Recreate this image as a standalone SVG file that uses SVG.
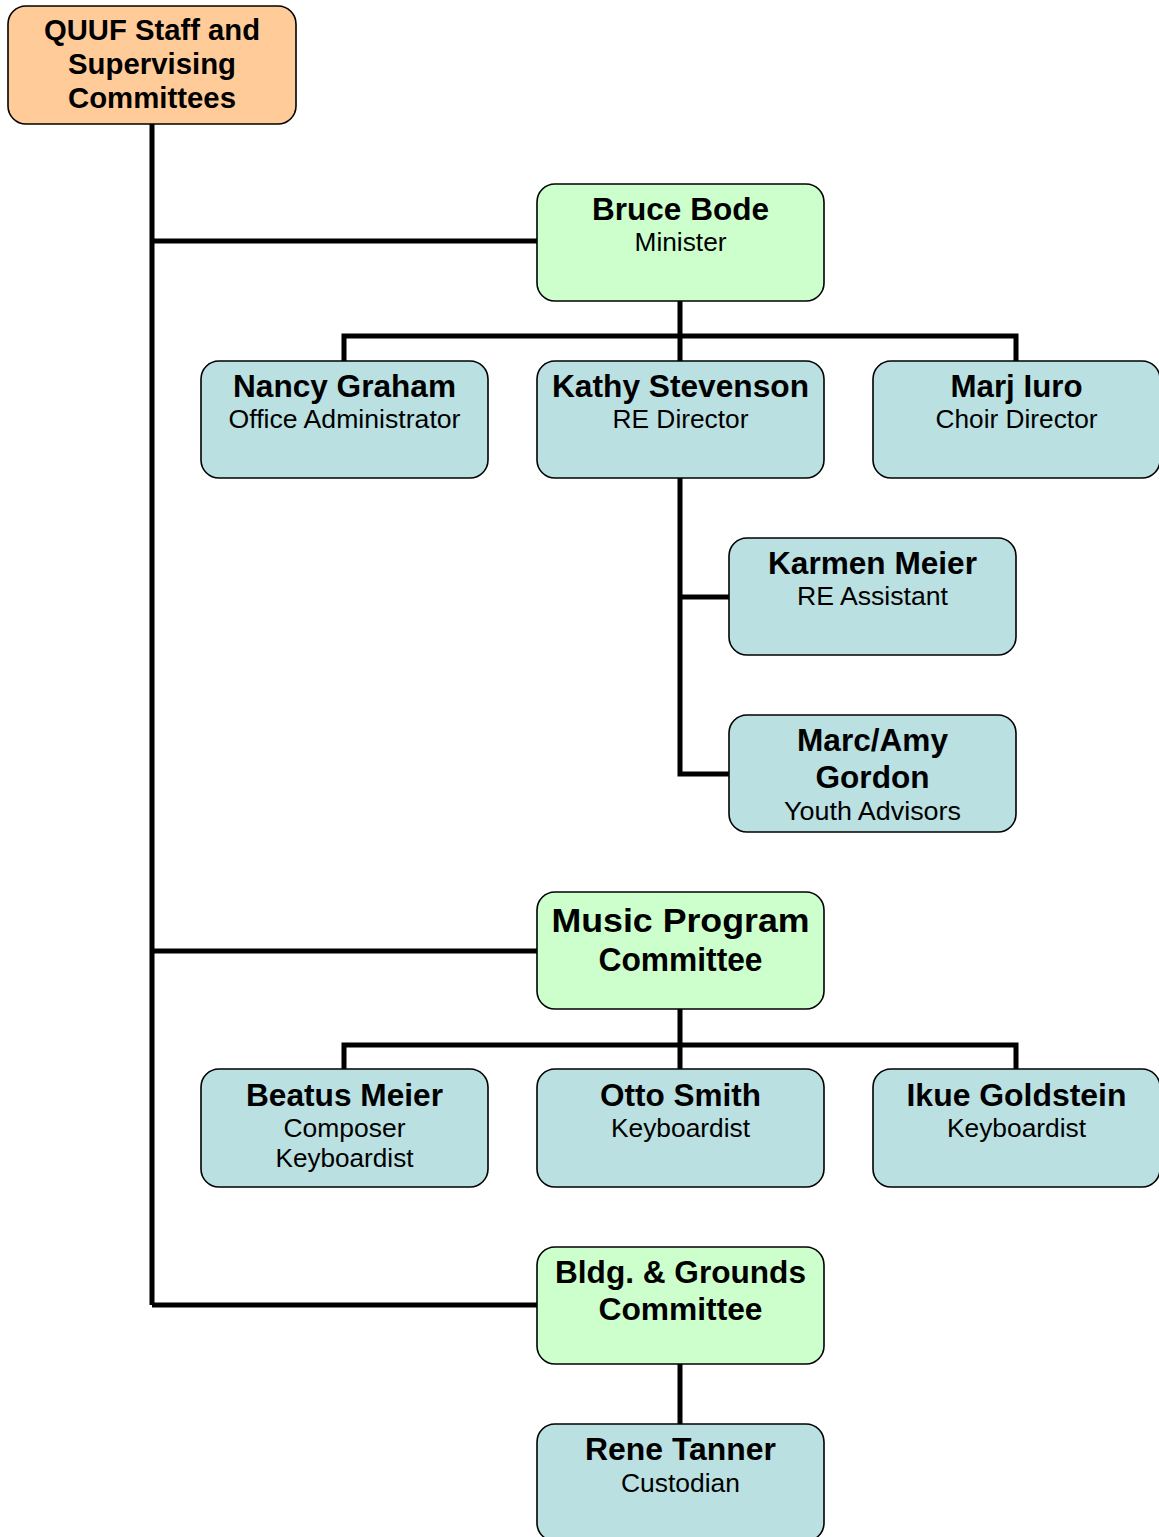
<svg xmlns="http://www.w3.org/2000/svg" width="1159" height="1537" viewBox="0 0 1159 1537">
<style>
.box{stroke:#000;stroke-width:1.6}
.org{fill:#FFCC99}
.grn{fill:#CCFFCC}
.blu{fill:#BAE0E2}
.n{font-family:"Liberation Sans",Arial,sans-serif;font-weight:bold;font-size:31.5px;text-anchor:middle;fill:#000}
.q{font-size:29.5px}
.s{font-family:"Liberation Sans",Arial,sans-serif;font-size:26px;text-anchor:middle;fill:#000}
.c{fill:none;stroke:#000;stroke-width:5}
</style>
<rect width="1159" height="1537" fill="#fff"/>
<g id="connectors">
<path class="c" d="M152 124V1305M152 241H537M152 951H537M152 1305H537"/>
<path class="c" d="M680 301V336M344 361V336H1016V361M680 336V361"/>
<path class="c" d="M680 478V774H729M680 597H729"/>
<path class="c" d="M680 1009V1045M344 1069V1045H1016V1069M680 1045V1069"/>
<path class="c" d="M680 1364V1424"/>
</g>
<g id="quuf">
<rect class="box org" x="8" y="6" width="288" height="118" rx="18"/>
<text class="n q" x="152" y="40" textLength="216" lengthAdjust="spacingAndGlyphs">QUUF Staff and</text>
<text class="n q" x="152" y="74" textLength="168" lengthAdjust="spacingAndGlyphs">Supervising</text>
<text class="n q" x="152" y="108" textLength="168" lengthAdjust="spacingAndGlyphs">Committees</text>
</g>
<g id="bruce">
<rect class="box grn" x="537" y="184" width="287" height="117" rx="18"/>
<text class="n" x="680.5" y="220" textLength="177" lengthAdjust="spacingAndGlyphs">Bruce Bode</text>
<text class="s" x="680.5" y="251" textLength="92" lengthAdjust="spacingAndGlyphs">Minister</text>
</g>
<g id="nancy">
<rect class="box blu" x="201" y="361" width="287" height="117" rx="18"/>
<text class="n" x="344.5" y="397" textLength="223" lengthAdjust="spacingAndGlyphs">Nancy Graham</text>
<text class="s" x="344.5" y="428" textLength="232" lengthAdjust="spacingAndGlyphs">Office Administrator</text>
</g>
<g id="kathy">
<rect class="box blu" x="537" y="361" width="287" height="117" rx="18"/>
<text class="n" x="680.5" y="397" textLength="257" lengthAdjust="spacingAndGlyphs">Kathy Stevenson</text>
<text class="s" x="680.5" y="428" textLength="136" lengthAdjust="spacingAndGlyphs">RE Director</text>
</g>
<g id="marj">
<rect class="box blu" x="873" y="361" width="287" height="117" rx="18"/>
<text class="n" x="1016.5" y="397" textLength="132" lengthAdjust="spacingAndGlyphs">Marj Iuro</text>
<text class="s" x="1016.5" y="428" textLength="162" lengthAdjust="spacingAndGlyphs">Choir Director</text>
</g>
<g id="karmen">
<rect class="box blu" x="729" y="538" width="287" height="117" rx="18"/>
<text class="n" x="872.5" y="574" textLength="209" lengthAdjust="spacingAndGlyphs">Karmen Meier</text>
<text class="s" x="872.5" y="605" textLength="151" lengthAdjust="spacingAndGlyphs">RE Assistant</text>
</g>
<g id="marcamy">
<rect class="box blu" x="729" y="715" width="287" height="117" rx="18"/>
<text class="n" x="872.5" y="751" textLength="151" lengthAdjust="spacingAndGlyphs">Marc/Amy</text>
<text class="n" x="872.5" y="788" textLength="114" lengthAdjust="spacingAndGlyphs">Gordon</text>
<text class="s" x="872.5" y="820" textLength="177" lengthAdjust="spacingAndGlyphs">Youth Advisors</text>
</g>
<g id="music">
<rect class="box grn" x="537" y="892" width="287" height="117" rx="18"/>
<text class="n" x="680.5" y="932" style="font-size:34px" textLength="258" lengthAdjust="spacingAndGlyphs">Music Program</text>
<text class="n" x="680.5" y="971" style="font-size:33px" textLength="164" lengthAdjust="spacingAndGlyphs">Committee</text>
</g>
<g id="beatus">
<rect class="box blu" x="201" y="1069" width="287" height="118" rx="18"/>
<text class="n" x="344.5" y="1106" textLength="197" lengthAdjust="spacingAndGlyphs">Beatus Meier</text>
<text class="s" x="344.5" y="1137" textLength="122" lengthAdjust="spacingAndGlyphs">Composer</text>
<text class="s" x="344.5" y="1167" textLength="138" lengthAdjust="spacingAndGlyphs">Keyboardist</text>
</g>
<g id="otto">
<rect class="box blu" x="537" y="1069" width="287" height="118" rx="18"/>
<text class="n" x="680.5" y="1106" textLength="161" lengthAdjust="spacingAndGlyphs">Otto Smith</text>
<text class="s" x="680.5" y="1137" textLength="139" lengthAdjust="spacingAndGlyphs">Keyboardist</text>
</g>
<g id="ikue">
<rect class="box blu" x="873" y="1069" width="287" height="118" rx="18"/>
<text class="n" x="1016.5" y="1106" textLength="220" lengthAdjust="spacingAndGlyphs">Ikue Goldstein</text>
<text class="s" x="1016.5" y="1137" textLength="139" lengthAdjust="spacingAndGlyphs">Keyboardist</text>
</g>
<g id="bldg">
<rect class="box grn" x="537" y="1247" width="287" height="117" rx="18"/>
<text class="n" x="680.5" y="1283" textLength="251" lengthAdjust="spacingAndGlyphs">Bldg. &amp; Grounds</text>
<text class="n" x="680.5" y="1320" textLength="164" lengthAdjust="spacingAndGlyphs">Committee</text>
</g>
<g id="rene">
<rect class="box blu" x="537" y="1424" width="287" height="117" rx="18"/>
<text class="n" x="680.5" y="1460" textLength="191" lengthAdjust="spacingAndGlyphs">Rene Tanner</text>
<text class="s" x="680.5" y="1492" textLength="119" lengthAdjust="spacingAndGlyphs">Custodian</text>
</g>
</svg>
